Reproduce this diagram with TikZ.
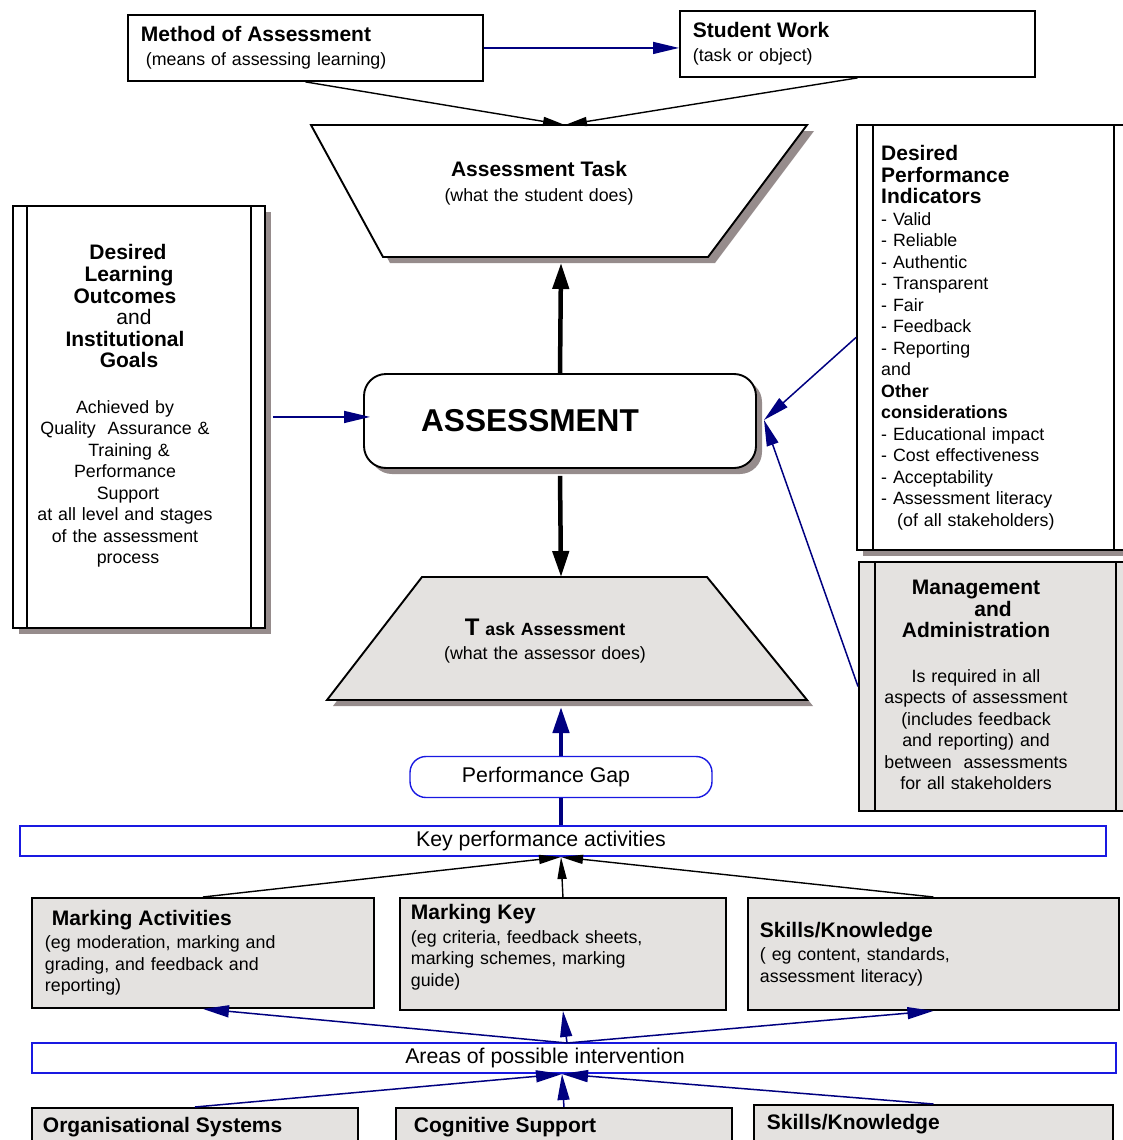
\documentclass[tikz,border=0pt]{standalone}
\usepackage{fontspec}
\setmainfont{Liberation Sans}
\usetikzlibrary{arrows.meta,shadows}

\definecolor{navyln}{RGB}{0,0,128}
\definecolor{boxblue}{RGB}{25,25,225}
\definecolor{panelgray}{RGB}{228,226,224}
\definecolor{shadegray}{RGB}{150,140,140}

\newcommand{\smtxt}{\fontsize{17.8}{21.5}\selectfont}
\newcommand{\hdtxt}{\fontsize{21}{21.6}\selectfont\bfseries}
\newcommand{\mdtxt}{\fontsize{21.3}{24}\selectfont}
\newcommand{\bigtxt}{\fontsize{31.6}{36}\selectfont\bfseries}

\tikzset{
  plainbox/.style={draw,line width=1.9pt,fill=white,align=left},
  graybox/.style={plainbox,fill=panelgray},
  bluebox/.style={draw=boxblue,line width=1.4pt,fill=white,align=center},
  navar/.style={draw=navyln,line width=1.5pt,-{Triangle[length=26pt,width=12pt]}},
  blkar/.style={line width=1.4pt,-{Triangle[length=22pt,width=9pt]}},
  fatar/.style={line width=4.5pt,-{Triangle[length=26pt,width=16pt]}},
  dropsh/.style={drop shadow={shadow xshift=6pt,shadow yshift=-6pt,fill=shadegray,opacity=1}},
}

\begin{document}
\begin{tikzpicture}[x=1pt,y=-1pt,font=\smtxt]
  \clip (0,0) rectangle (1123,1140);%画面

  % 上の二つの箱
  \node[plainbox,anchor=north west,inner xsep=13pt,text width=329pt,minimum height=66pt]
    (meth) at (127,14) {{\hdtxt Method of Assessment}\\[3pt] \hspace*{5pt}(means of assessing learning)};
  \node[plainbox,anchor=north west,inner xsep=13pt,text width=329pt,minimum height=66pt]
    (stud) at (679,10) {{\hdtxt Student Work}\\[3pt] (task or object)};

  % Assessment Task (逆台形)
  \fill[shadegray] (318,131)--(814,131)--(715,263)--(390,263)--cycle;%影
  \draw[line width=1.9pt,fill=white] (311,125)--(807,125)--(708,257)--(383,257)--cycle;
  \node[align=center,text width=300pt] (att) at (539,183)
    {{\hdtxt Assessment Task}\\[3pt] (what the student does)};
  \coordinate (atT) at (565,125);%上辺
  \coordinate (atB) at (561,263);%下辺

  % Task Assessment (台形)
  \fill[shadegray] (428,583)--(713,583)--(813,706)--(333,706)--cycle;%影
  \draw[line width=1.9pt,fill=panelgray] (422,577)--(707,577)--(807,700)--(327,700)--cycle;
  \node[align=center,text width=300pt] (tat) at (545,641)
    {{\fontsize{24}{24}\selectfont\bfseries T} {\fontsize{17.7}{21.5}\selectfont\bfseries ask Assessment}\\[3pt] (what the assessor does)};
  \coordinate (taT) at (561,577);%上辺
  \coordinate (taB) at (561,707);%下辺

  % 中央
  \node[plainbox,align=center,rounded corners=22pt,minimum width=392pt,minimum height=94pt,
    font=\bigtxt,dropsh] (asmt) at (560,421) {ASSESSMENT\hspace*{60pt}};
  \coordinate (asR) at (764,420);%右の矢印先

  % 左の箱
  \node[plainbox,anchor=north west,minimum width=252pt,minimum height=422pt,dropsh] (dlo) at (12,205) {};
  \draw[line width=1.9pt] ([xshift=15pt]dlo.north west)--([xshift=15pt]dlo.south west);
  \draw[line width=1.9pt] ([xshift=-15pt]dlo.north east)--([xshift=-15pt]dlo.south east);
  \node[align=center,text width=230pt] (dlot) at (125,406)
    {{\hdtxt \hspace*{6pt}Desired\\ \hspace*{8pt}Learning\\ Outcomes\\ \mdseries\hspace*{18pt}and\\ \bfseries Institutional\\ \hspace*{8pt}Goals}\\[24pt]
     Achieved by\\ Quality\ \ Assurance \&\\ \hspace*{8pt}Training \&\\ Performance\\ \hspace*{6pt}Support\\
     at all level and stages\\ of the assessment\\ \hspace*{6pt}process};

  % 右上の箱
  \node[plainbox,anchor=north west,minimum width=273pt,minimum height=425pt,dropsh] (dpi) at (856,124) {};
  \draw[line width=1.9pt] ([xshift=17pt]dpi.north west)--([xshift=17pt]dpi.south west);
  \draw[line width=1.9pt] ([xshift=-17pt]dpi.north east)--([xshift=-17pt]dpi.south east);
  \node[anchor=north west,inner sep=0pt,align=left,text width=225pt] (dpit) at (881,145)
    {{\hdtxt Desired\\ Performance\\ Indicators}\\
     - Valid\\ - Reliable\\ - Authentic\\ - Transparent\\ - Fair\\ - Feedback\\ - Reporting\\ and\\
     \textbf{Other}\\ \textbf{considerations}\\ - Educational impact\\ - Cost effectiveness\\
     - Acceptability\\ - Assessment literacy\\ \hspace*{16pt}(of all stakeholders)};

  % 右下の箱
  \node[graybox,anchor=north west,minimum width=273pt,minimum height=249pt] (mgmt) at (858,561) {};
  \draw[line width=1.9pt] ([xshift=17pt]mgmt.north west)--([xshift=17pt]mgmt.south west);
  \draw[line width=1.9pt] ([xshift=-17pt]mgmt.north east)--([xshift=-17pt]mgmt.south east);
  \node[align=center,text width=230pt] (mgmtt) at (976,685)
    {{\hdtxt Management\\ \hspace*{34pt}and\\ Administration}\\[23pt]
     Is required in all\\ aspects of assessment\\ (includes feedback\\ and reporting) and\\
     between\ \ assessments\\ for all stakeholders};

  % 下の部分
  \node[bluebox,rounded corners=16pt,minimum width=302pt,minimum height=41pt,font=\mdtxt]
    (pg) at (561,777) {Performance Gap\hspace*{30pt}};
  \node[bluebox,minimum width=1086pt,minimum height=30pt,font=\mdtxt]
    (kpa) at (563,841) {Key performance activities\hspace*{44pt}};
  \coordinate (kpaB) at (561,857);%下辺

  \node[graybox,anchor=north west,inner xsep=13pt,text width=316pt,minimum height=110pt] (mact) at (31,897)
    {\hspace*{7pt}{\hdtxt Marking Activities}\\[2pt] (eg moderation, marking and\\ grading, and feedback and\\ reporting)};
  \node[graybox,anchor=north west,inner xsep=11pt,text width=304pt,minimum height=112pt] (mkey) at (399,897)
    {{\hdtxt Marking Key}\\[2pt] (eg criteria, feedback sheets,\\ marking schemes, marking\\ guide)\\[-4pt] \mbox{}};
  \node[graybox,anchor=north west,inner xsep=12pt,text width=347pt,minimum height=112pt] (skl) at (747,897)
    {{\hdtxt Skills/Knowledge}\\[2pt] ( eg content, standards,\\ assessment literacy)};

  \node[bluebox,minimum width=1084pt,minimum height=30pt,font=\mdtxt]
    (aopi) at (574,1058) {Areas of possible intervention\hspace*{58pt}};
  \coordinate (aoT) at (567,1043);%上辺
  \coordinate (aoB) at (562,1074);%下辺

  \node[graybox,anchor=north west,inner xsep=11pt,text width=304pt,minimum height=38pt] (org) at (31,1107)
    {{\hdtxt Organisational Systems}};
  \node[graybox,anchor=north west,inner xsep=18pt,text width=300pt,minimum height=38pt] (cog) at (395,1107)
    {{\hdtxt Cognitive Support}};
  \node[graybox,anchor=north west,inner xsep=13pt,text width=333pt,minimum height=38pt] (skltwo) at (753,1104)
    {{\hdtxt Skills/Knowledge}};

  % 矢印
  \draw[navar] (meth.east)--(meth.east -| stud.west);
  \draw[blkar] (meth.south)--(atT);
  \draw[blkar] (stud.south)--(atT);
  \draw[fatar] (asmt.north)--(atB);
  \draw[fatar] ([yshift=-7pt]asmt.south)--(taT);
  \draw[fatar,navyln] (pg.north)--(taB);
  \draw[line width=4.5pt,navyln] (pg.south)--(pg.south |- kpa.north);
  \draw[navar] ([xshift=7pt]dlo.east)--([xshift=7pt]dlo.east -| asmt.west);
  \draw[navar] (dpi.west)--(asR);
  \draw[navar] (mgmt.west)--(asR);

  \foreach \b in {mact,mkey,skl}
    \draw[blkar] (\b.north)--(kpaB);%上へ
  \foreach \b in {mact,mkey,skl}
    \draw[navar] (aoT)--(\b.south);%介入から
  \foreach \b in {org,cog,skltwo}
    \draw[navar] (\b.north)--(aoB);%介入へ
\end{tikzpicture}
\end{document}
